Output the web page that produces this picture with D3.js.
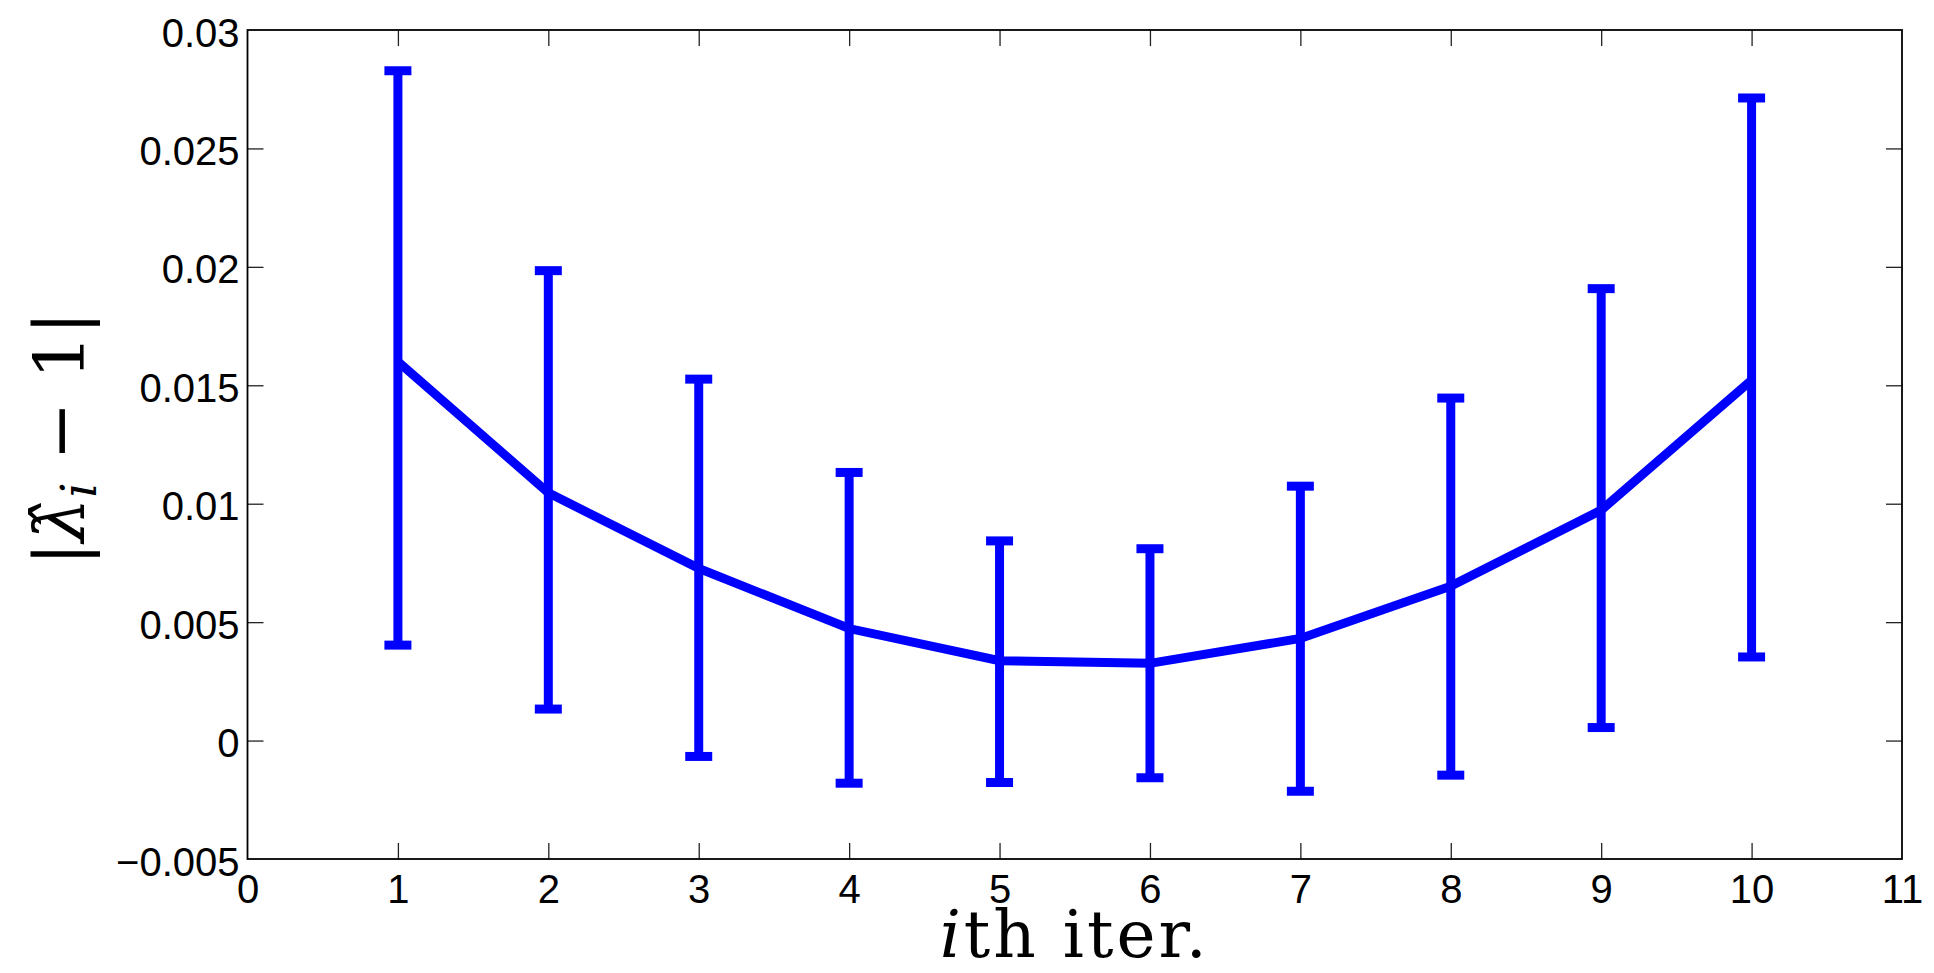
<!DOCTYPE html>
<html>
<head>
<meta charset="utf-8">
<script src="https://cdn.jsdelivr.net/npm/d3@7"></script>
<style>
  body { margin: 0; background: #fff; }
  svg { display: block; }
</style>
</head>
<body>
<svg id="chart" width="1934" height="973"></svg>
<script>
// data
const iters = [1, 2, 3, 4, 5, 6, 7, 8, 9, 10]
const means = [0.0160, 0.01046, 0.00727, 0.00473, 0.00337, 0.00326, 0.00431, 0.00652, 0.00973, 0.01522]
const uppers = [0.02828, 0.01984, 0.01526, 0.01132, 0.00843, 0.0081, 0.01074, 0.01446, 0.01908, 0.02713]
const lowers = [0.00403, 0.00133, -0.00067, -0.0018, -0.00177, -0.00157, -0.00214, -0.00146, 0.00055, 0.00353]

const xTicks = [0, 1, 2, 3, 4, 5, 6, 7, 8, 9, 10, 11]
const yTicks = [-0.005, 0, 0.005, 0.01, 0.015, 0.02, 0.025, 0.03]
const yTickLabels = ['\u22120.005', '0', '0.005', '0.01', '0.015', '0.02', '0.025', '0.03']

const blue = '#0000ff'
let margin = { top: 30, right: 32, bottom: 114, left: 247.5 }

const svg = d3.select('#chart')
const W = +svg.attr('width'), H = +svg.attr('height')
const width = W - margin.left - margin.right
const height = H - margin.top - margin.bottom

svg.append('rect').attr('width', W).attr('height', H).attr('fill', '#fff')

const x = d3.scaleLinear().domain([0, 11]).range([0, width])
const y = d3.scaleLinear().domain([-0.005, 0.03]).range([height, 0])

const g = svg.append('g').attr('transform', `translate(${margin.left},${margin.top})`)

const tickLen = 16
const fontTicks = '"Liberation Sans", Arial, Helvetica, sans-serif'

// axes (ticks point inward, mirrored on top / right)
const xAxis = g.append('g').attr('transform', `translate(0,${height})`)
  .call(d3.axisBottom(x).tickValues(xTicks).tickFormat(d3.format('d'))
    .tickSizeInner(-tickLen).tickSizeOuter(0).tickPadding(16))
const xAxisTop = g.append('g')
  .call(d3.axisTop(x).tickValues(xTicks.slice(1, -1)).tickFormat('')
    .tickSizeInner(-tickLen).tickSizeOuter(0))
const yAxis = g.append('g')
  .call(d3.axisLeft(y).tickValues(yTicks).tickFormat((d, i) => yTickLabels[i])
    .tickSizeInner(-tickLen).tickSizeOuter(0).tickPadding(8))
const yAxisRight = g.append('g').attr('transform', `translate(${width},0)`)
  .call(d3.axisRight(y).tickValues(yTicks.slice(1, -1)).tickFormat('')
    .tickSizeInner(-tickLen).tickSizeOuter(0))

;[xAxis, xAxisTop, yAxis, yAxisRight].forEach(a => {
  a.select('.domain').remove()
  a.selectAll('.tick line').attr('stroke', '#222').attr('stroke-width', 1.3)
  a.selectAll('.tick text')
    .attr('font-family', fontTicks).attr('font-size', 40).attr('fill', '#000')
})
// the end ticks that sit on the box are hidden by it anyway
xAxis.selectAll('.tick line').filter(d => d === 0 || d === 11).remove()
yAxis.selectAll('.tick line').filter(d => d === -0.005 || d === 0.03).remove()
yAxis.selectAll('.tick text').attr('dy', '0.4em')

// frame
g.append('rect')
  .attr('width', width).attr('height', height)
  .attr('fill', 'none').attr('stroke', '#000').attr('stroke-width', 1.8)

// mean line
const line = d3.line().x((d, i) => x(iters[i])).y(d => y(d))
g.append('path')
  .datum(means)
  .attr('d', line)
  .attr('fill', 'none')
  .attr('stroke', blue)
  .attr('stroke-width', 9)
  .attr('stroke-linejoin', 'miter')

// error bars
const capHalf = 13.5
const bars = g.append('g').selectAll('.errbar')
  .data(iters)
  .join('g').attr('class', 'errbar')
bars.append('line')
  .attr('x1', d => x(d)).attr('x2', d => x(d))
  .attr('y1', (d, i) => y(uppers[i])).attr('y2', (d, i) => y(lowers[i]))
  .attr('stroke', blue).attr('stroke-width', 9)
bars.append('line')
  .attr('x1', d => x(d) - capHalf).attr('x2', d => x(d) + capHalf)
  .attr('y1', (d, i) => y(uppers[i])).attr('y2', (d, i) => y(uppers[i]))
  .attr('stroke', blue).attr('stroke-width', 9)
bars.append('line')
  .attr('x1', d => x(d) - capHalf).attr('x2', d => x(d) + capHalf)
  .attr('y1', (d, i) => y(lowers[i])).attr('y2', (d, i) => y(lowers[i]))
  .attr('stroke', blue).attr('stroke-width', 9)

// axis titles
const fontMath = '"DejaVu Serif", "Liberation Serif", serif'
const xt = svg.append('text')
  .attr('x', margin.left + width / 2)
  .attr('y', 957)
  .attr('text-anchor', 'middle')
  .attr('font-family', fontMath)
  .attr('font-size', 66)
  .attr('letter-spacing', 3)
xt.append('tspan').attr('font-style', 'italic').text('i')
xt.append('tspan').text('th iter.')

const yt = svg.append('text')
  .attr('transform', `translate(84,${margin.top + height / 2 - 6}) rotate(-90)`)
  .attr('text-anchor', 'middle')
  .attr('font-family', fontMath)
  .attr('font-size', 70)
yt.append('tspan').text('|')
yt.append('tspan').attr('font-style', 'italic').text('\u03bb\u0302')
yt.append('tspan').attr('font-style', 'italic').attr('font-size', 48).attr('dy', 12).text('i')
yt.append('tspan').attr('dy', -12).text(' \u2212 1|')
</script>
</body>
</html>
